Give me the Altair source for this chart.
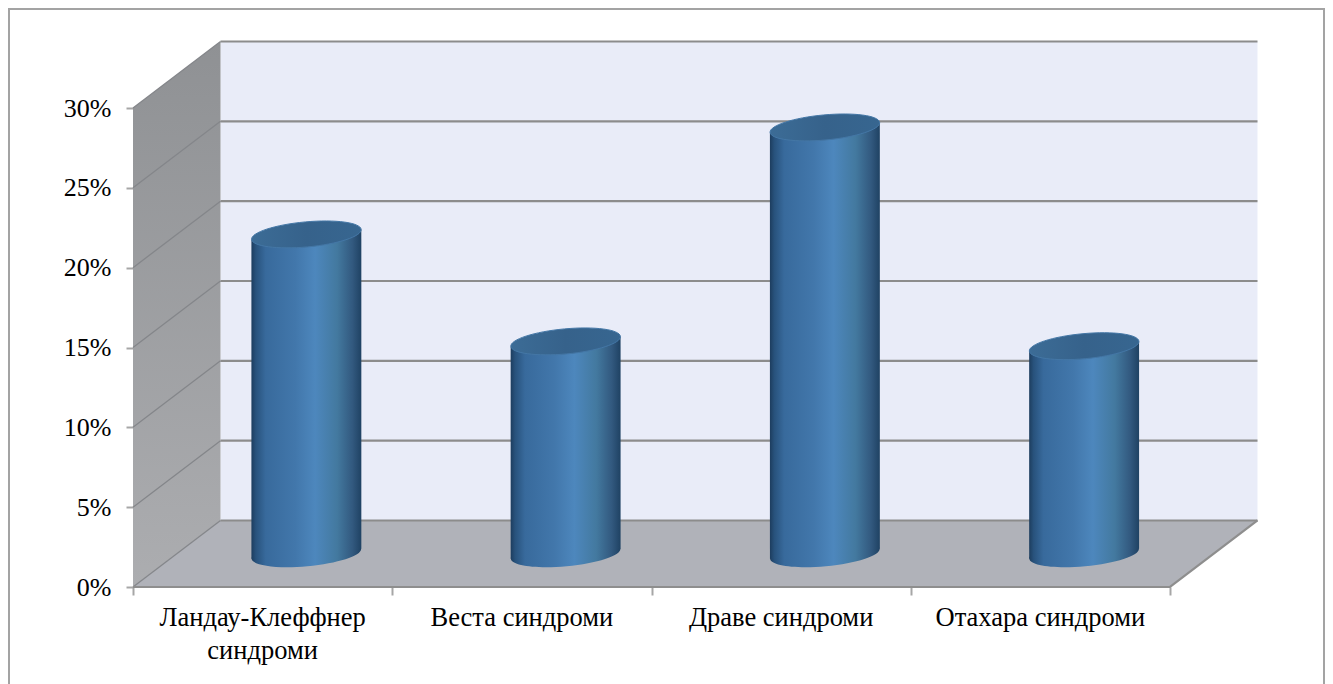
import altair as alt
import pandas as pd

categories = ["Ландау-Клеффнер\nсиндроми", "Веста синдроми", "Драве синдроми", "Отахара синдроми"]
values = [20.0, 13.3, 26.7, 13.0]
y_ticks = [0, 5, 10, 15, 20, 25, 30]
x_ticks = [0, 1, 2, 3, 4]

FONT = "Liberation Serif"
PLOT_W, PLOT_H = 1037, 479
DEPTH_X, DEPTH_Y = 0.3375, 4.165      # oblique offset of back wall, in data units
HALF_W, TILT = 0.212, 0.313           # cylinder half width, ellipse tilt in data units
N = len(categories)

x_scale = alt.Scale(domain=[0, 4], nice=False, zero=False)
y_scale = alt.Scale(domain=[0, 30], nice=False, zero=False)
x_axis = alt.Axis(values=x_ticks, labels=False, grid=False, domain=False, tickSize=8, tickWidth=2,
                  tickColor="#a6a6a6", title=None)
y_axis = alt.Axis(values=y_ticks, labelExpr="datum.value + '%'", grid=False, domain=False,
                  tickSize=7, tickWidth=2, tickColor="#a6a6a6", labelPadding=15, title=None)
X = lambda f="x:Q": alt.X(f, scale=x_scale, axis=x_axis)
Y = lambda f="y:Q": alt.Y(f, scale=y_scale, axis=y_axis)


def grad(stops, x1=0, x2=1, y1=0, y2=0):
    return alt.Gradient(
        gradient="linear",
        stops=[alt.GradientStop(offset=o, color=c) for o, c in stops],
        x1=x1, x2=x2, y1=y1, y2=y2,
    )


body_fill = grad([(0, "#1d3d5e"), (0.04, "#28527c"), (0.13, "#386a9c"), (0.4, "#4277ab"),
                  (0.58, "#4d87bd"), (0.78, "#43799f"), (0.92, "#32597f"), (1, "#1f4263")])
top_fill = grad([(0, "#3c6c96"), (0.5, "#36628b"), (1, "#376690")])

# frame
frame = alt.Chart(pd.DataFrame({"a": [0]})).mark_rect(
    fillOpacity=0, stroke="#a3a3a3", strokeWidth=2
).encode(x=alt.value(-124), x2=alt.value(1191), y=alt.value(-99), y2=alt.value(600))

# back wall
back = alt.Chart(pd.DataFrame({
    "x": [DEPTH_X, 4 + DEPTH_X], "y": [DEPTH_Y, DEPTH_Y], "y2": [30 + DEPTH_Y, 30 + DEPTH_Y],
})).mark_area(orient="vertical", fill="#e9ecf8").encode(x=X(), y=Y(), y2="y2:Q")

# side wall
side = alt.Chart(pd.DataFrame({
    "x": [0, DEPTH_X], "y": [0, DEPTH_Y], "y2": [30, 30 + DEPTH_Y],
})).mark_area(orient="vertical", fill=grad([(0, "#8f9194"), (1, "#acadb0")], 0, 0, 0, 1)).encode(
    x=X(), y=Y(), y2="y2:Q")

# floor
floor = alt.Chart(pd.DataFrame({
    "x": [0, DEPTH_X, 4, 4 + DEPTH_X],
    "y": [0, DEPTH_Y, DEPTH_Y, DEPTH_Y],
    "y2": [0, 0, 0, DEPTH_Y],
})).mark_area(orient="vertical", fill="#b0b2b9").encode(x=X(), y=Y(), y2="y2:Q")

# gridlines on back wall and side wall
back_rows, side_rows = [], []
for v in y_ticks:
    back_rows += [{"x": DEPTH_X, "y": v + DEPTH_Y, "k": v}, {"x": 4 + DEPTH_X, "y": v + DEPTH_Y, "k": v}]
    side_rows += [{"x": 0, "y": v, "k": v}, {"x": DEPTH_X, "y": v + DEPTH_Y, "k": v}]
grid_back = alt.Chart(pd.DataFrame(back_rows)).mark_line(color="#8c8c8c", strokeWidth=2.2).encode(
    x=X(), y=Y(), detail="k:N")
grid_side = alt.Chart(pd.DataFrame(side_rows)).mark_line(color="#84868a", strokeWidth=1.3).encode(
    x=X(), y=Y(), detail="k:N")

# floor edges
edge = alt.Chart(pd.DataFrame({
    "x": [0, 4, 4 + DEPTH_X], "y": [0, 0, DEPTH_Y],
})).mark_line(color="#8e8e8e", strokeWidth=2.2).encode(x=X(), y=Y())

# cylinders
rows = []
tops = []
for i, (c, v) in enumerate(zip(categories, values)):
    cx = i + 0.5 + DEPTH_X / 2
    base = DEPTH_Y / 2
    rows.append({"c": c, "x": cx - HALF_W, "y": v + base - TILT, "y2": base - TILT})
    rows.append({"c": c, "x": cx + HALF_W, "y": v + base + TILT, "y2": base + TILT})
    tops.append({"c": c, "x": cx, "y": v + base, "base": base})
cyl_df = pd.DataFrame(rows)
top_df = pd.DataFrame(tops)

ELLIPSE = "M-0.996,0.0906 A1,0.228 -5.2 1 1 0.996,-0.0906 A1,0.228 -5.2 1 1 -0.996,0.0906 Z"
SIZE = 110 ** 2

bottoms = alt.Chart(top_df).mark_point(
    shape=ELLIPSE, size=SIZE, filled=True, fill=body_fill, opacity=1, strokeWidth=0
).encode(x=X(), y=Y("base:Q"))
bodies = alt.Chart(cyl_df).mark_area(orient="vertical", fill=body_fill).encode(
    x=X(), y=Y(), y2="y2:Q", detail="c:N")
tops_layer = alt.Chart(top_df).mark_point(
    shape=ELLIPSE, size=SIZE, filled=True, fill=top_fill, opacity=1,
    stroke="#4477a6", strokeWidth=1
).encode(x=X(), y=Y())

# category labels
lab_df = pd.DataFrame({"x": [i + 0.5 for i in range(N)], "y": [0.0] * N, "t": categories})
labels = alt.Chart(lab_df).mark_text(
    font=FONT, fontSize=26.5, color="#000000", baseline="top", align="center",
    dy=18, lineHeight=33, lineBreak="\n",
).encode(x=X(), y=Y(), text="t:N")

chart = alt.layer(
    frame, back, side, floor, grid_back, grid_side, edge, bottoms, bodies, tops_layer, labels
).properties(
    width=PLOT_W, height=PLOT_H,
    padding={"left": 125, "top": 100, "right": 155, "bottom": 97},
    autosize=alt.AutoSizeParams(type="none"),
    background="white",
).configure_view(stroke=None).configure_axis(
    labelFont=FONT, labelFontSize=26, labelColor="#000000"
)

chart.save("out.html", embed_options={"renderer": "svg", "actions": False})
